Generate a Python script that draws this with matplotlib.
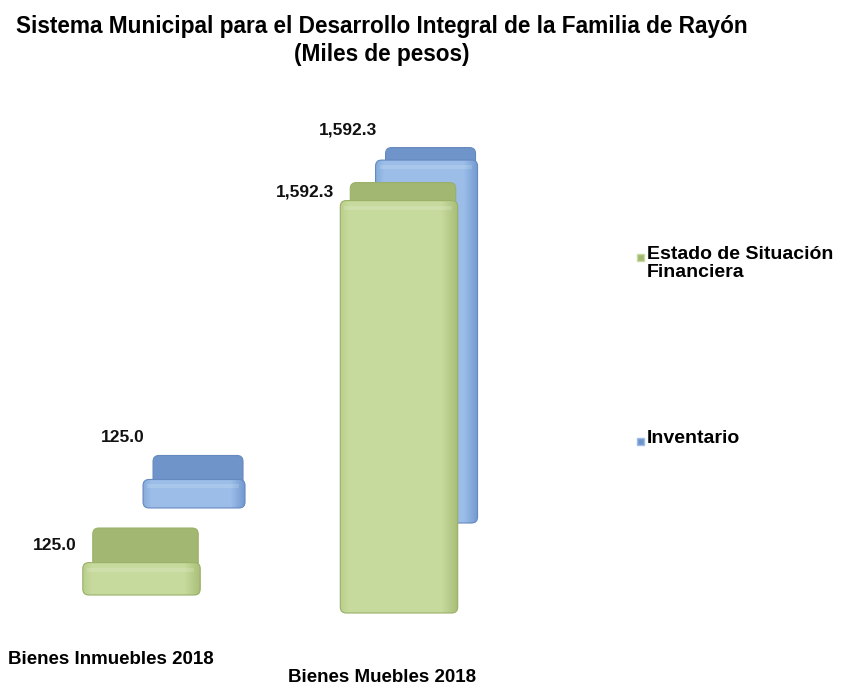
import matplotlib
matplotlib.use("Agg")
import numpy as np
import matplotlib.pyplot as plt
from matplotlib.patches import FancyBboxPatch, Rectangle
from matplotlib.colors import LinearSegmentedColormap

# data
categories = ["Bienes Inmuebles 2018", "Bienes Muebles 2018"]
series_names = ["Estado de Situación\nFinanciera", "Inventario"]
estado = [125.0, 1592.3]
inventario = [125.0, 1592.3]

# fake 3d projection: x in category units, y in value units
PXX = 257.5        # pixels per category unit
PXY = 3.861        # value units per pixel
ser_x0 = [0.0, 0.204]
ser_dx = [1.0, 0.903]
ser_y0 = [0, 336]
ser_dy = [-69.5, -58]
ser_k = [1.0, 0.88]        # perspective shrink of the back row
widths = [0.456, 0.396]
top_depth = [36, 25]       # pixels of visible top face
front_cols = [("#b9cd8c", "#c8db9e", "#a6bd76"), ("#86acdc", "#9cbee9", "#7299cf")]
top_cols = ["#a2b771", "#6f94ca"]
edge_cols = ["#9ab067", "#6689bf"]

fig = plt.figure(figsize=(8.46, 6.88), dpi=100)
ax = fig.add_axes([0, 0, 1, 1])
ax.set_xlim(-141.5 / PXX, (846 - 141.5) / PXX)
ax.set_ylim(-(688 - 595) * PXY, 595 * PXY)
ax.axis("off")

r = 6 / PXX
asp = PXY * PXX


def rbox(x0, y0, w, h, **kw):
    p = FancyBboxPatch((x0 + r, y0 + r * asp), w - 2 * r, h - 2 * r * asp,
                       boxstyle=f"round,pad={r}", mutation_aspect=asp, **kw)
    ax.add_patch(p)
    return p


# horizontal shading across a front face
t = np.linspace(0, 1, 200)
grad = np.full_like(t, 0.5)
grad = np.where(t < 0.08, 0.5 - (0.08 - t) * 6, grad)
grad = np.where(t > 0.86, 0.5 + (t - 0.86) * 3.5, grad)

values = [estado, inventario]
vmax = max(max(estado), max(inventario))
for s in [1, 0]:
    cmap = LinearSegmentedColormap.from_list("f", front_cols[s])
    z = 2 if s == 1 else 5
    for c, v in enumerate(values[s]):
        x = ser_x0[s] + ser_dx[s] * c
        w = widths[s]
        base = ser_y0[s] + ser_dy[s] * c
        h = v * ser_k[s]
        top = base + h
        d = top_depth[s] * (1 - 0.5 * v / vmax) * PXY
        left = x - w / 2
        # top face (seen from above, slightly inset on the left)
        rbox(left + 10 / PXX, top - 20 * PXY, w - 12 / PXX, d + 20 * PXY,
             fc=top_cols[s], ec=edge_cols[s], lw=0.8, zorder=z)
        # front face
        ff = rbox(left, base, w, h, fc=front_cols[s][1], ec="none", zorder=z + 0.1)
        im = ax.imshow(grad[None, :], cmap=cmap, vmin=0, vmax=1, aspect="auto",
                       extent=(left, left + w, base, top), zorder=z + 0.15,
                       interpolation="bilinear")
        im.set_clip_path(ff)
        ax.add_patch(Rectangle((left + 4 / PXX, top - 9 * PXY), w - 10 / PXX, 4 * PXY,
                               fc="white", alpha=0.15, ec="none", zorder=z + 0.2))
        rbox(left, base, w, h, fc="none", ec=edge_cols[s], lw=0.8, zorder=z + 0.3)
        if s == 0:
            lx, ly = left - 6 / PXX, top + d / 2
        else:
            lx, ly = left + 2 / PXX, top + d + 18 * PXY
        ax.text(lx, ly, f"{v:,.1f}", ha="right", va="center", fontsize=12.5,
                fontweight="bold", family=["Liberation Sans", "DejaVu Sans"],
                color="#111111", zorder=8)

tfont = ["Liberation Sans", "DejaVu Sans"]
fig.text(382 / 846, 1 - 27 / 688,
         "Sistema Municipal para el Desarrollo Integral de la Familia de Rayón",
         ha="center", va="center", fontsize=16.3, fontweight="bold", family=tfont)
fig.text(382 / 846, 1 - 55 / 688, "(Miles de pesos)", ha="center", va="center",
         fontsize=16.3, fontweight="bold", family=tfont)

# category labels
fig.text(8 / 846, 1 - 660 / 688, categories[0], ha="left", va="center",
         fontsize=13.5, fontweight="bold", family=tfont)
fig.text(382 / 846, 1 - 677 / 688, categories[1], ha="center", va="center",
         fontsize=13.5, fontweight="bold", family=tfont)

# legend
leg_y = [257, 441]
for s, name in enumerate(series_names):
    y = 1 - leg_y[s] / 688
    fig.patches.append(Rectangle((637 / 846, y - 4 / 688), 7 / 846, 7 / 688,
                                 transform=fig.transFigure, fc=top_cols[s],
                                 ec=front_cols[s][1], lw=1))
    fig.text(647 / 846, y + 11 / 688, name, ha="left", va="top", fontsize=14,
             fontweight="bold", family=tfont, linespacing=1.05)

fig.savefig("out.png", dpi=100, facecolor="white")
